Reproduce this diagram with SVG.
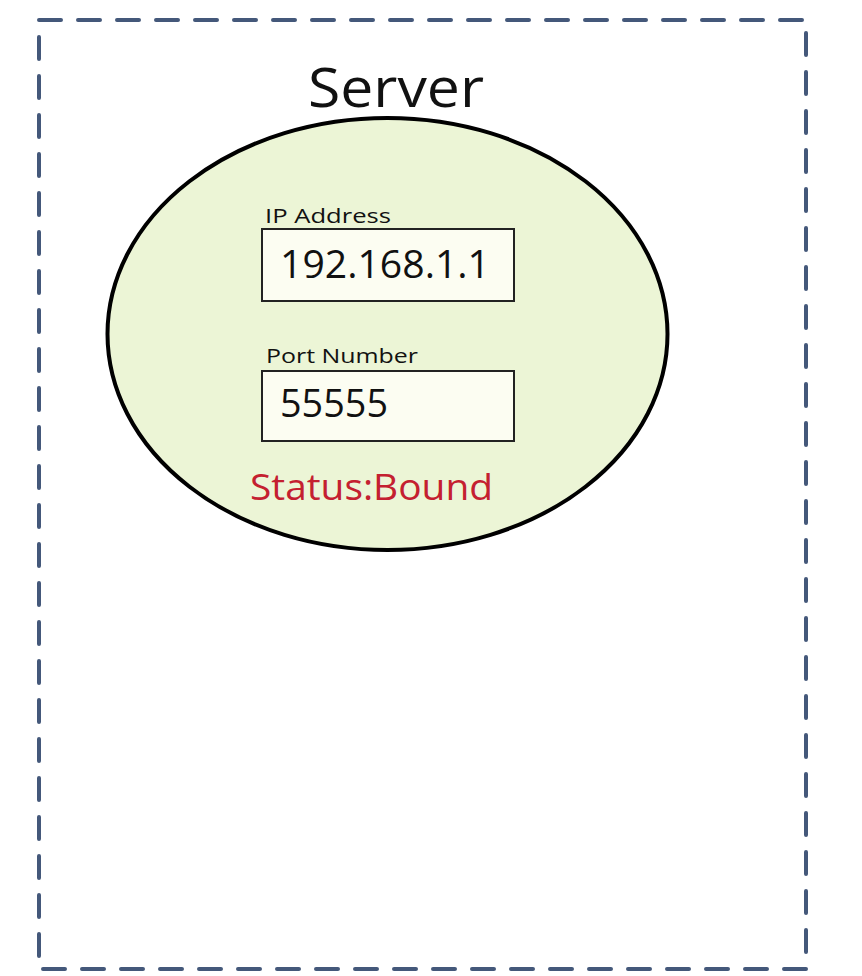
<svg xmlns="http://www.w3.org/2000/svg" width="862" height="976" viewBox="0 0 862 976">
<style>
.t{font-family:"Open Sans","Liberation Sans",sans-serif;fill:#111}
.box{fill:#FCFDF2;stroke:#222;stroke-width:2}
</style>
<rect width="862" height="976" fill="#fff"/>
<g id="server-frame">
<rect x="39" y="20" width="767" height="949" fill="none" stroke="#44587A" stroke-width="4" stroke-dasharray="22 17" stroke-linecap="round"/>
<text class="t" x="396" y="107" font-size="54" text-anchor="middle" textLength="176" lengthAdjust="spacingAndGlyphs">Server</text>
</g>
<g id="socket">
<ellipse cx="387.5" cy="334" rx="280" ry="216" fill="#ECF5D6" stroke="#000" stroke-width="4"/>
</g>
<g id="ip">
<text class="t" x="265" y="223" font-size="20" textLength="126" lengthAdjust="spacingAndGlyphs">IP Address</text>
<rect class="box" x="262" y="229" width="252" height="72"/>
<text class="t" x="280" y="278" font-size="39" textLength="210" lengthAdjust="spacingAndGlyphs">192.168.1.1</text>
</g>
<g id="port">
<text class="t" x="266" y="363" font-size="20" textLength="152" lengthAdjust="spacingAndGlyphs">Port Number</text>
<rect class="box" x="262" y="371" width="252" height="70"/>
<text class="t" x="280" y="417" font-size="39" textLength="108" lengthAdjust="spacingAndGlyphs">55555</text>
</g>
<g id="status">
<text x="250" y="500" font-family="'Open Sans','Liberation Sans',sans-serif" font-size="36" font-weight="500" fill="#C42030" textLength="243" lengthAdjust="spacingAndGlyphs">Status:Bound</text>
</g>
</svg>
